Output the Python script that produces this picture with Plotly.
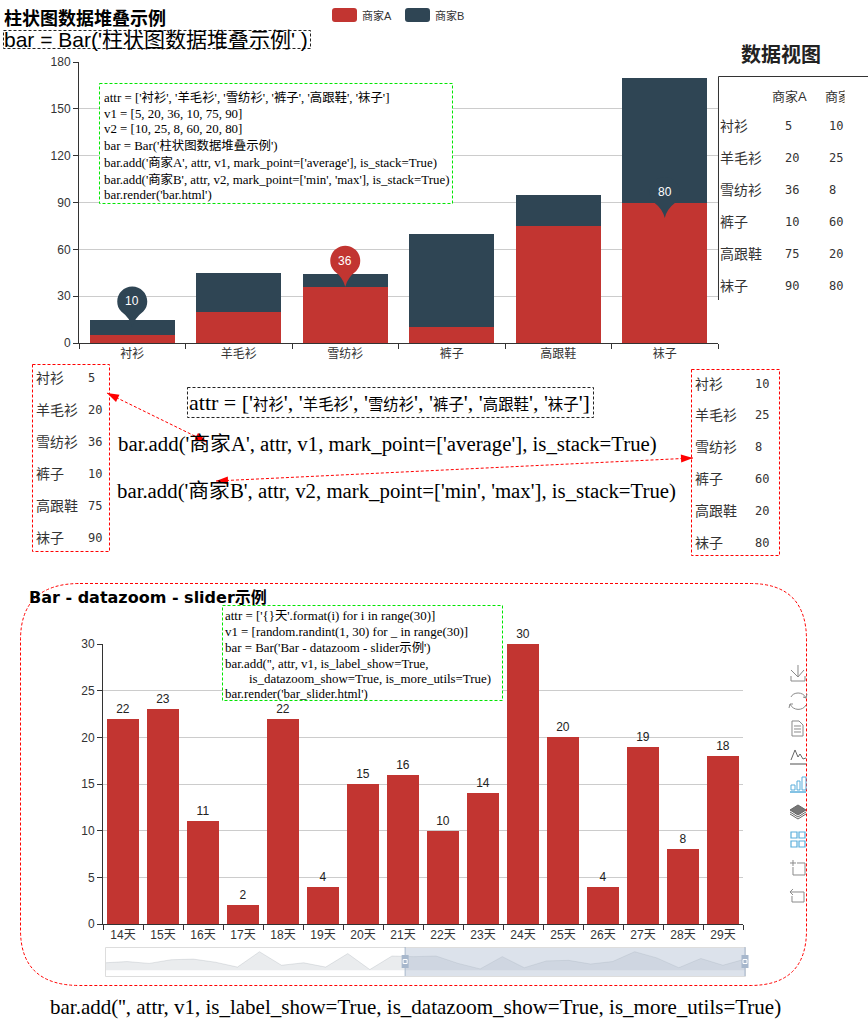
import re
import plotly.graph_objects as go

# ---------- data ----------
attr = ['衬衫', '羊毛衫', '雪纺衫', '裤子', '高跟鞋', '袜子']
v1 = [5, 20, 36, 10, 75, 90]
v2 = [10, 25, 8, 60, 20, 80]
series_names = ['商家A', '商家B']
pin_points = [('衬衫', 10, 'b'), ('雪纺衫', 36, 'a'), ('袜子', 80, 'b')]

days = ['{}天'.format(i) for i in range(30)]
day_vals = [12, 14, 11, 17, 18, 13, 5, 30, 8, 12, 5, 27, 1, 23,
            22, 23, 11, 2, 22, 4, 15, 16, 10, 14, 30, 20, 4, 19, 8, 18]
zoom_start = 14
zoom_end = 29
handle_left = 13.6
handle_right = 29
top_ticks = [0, 30, 60, 90, 120, 150, 180]
bot_ticks = [0, 5, 10, 15, 20, 25, 30]

code_top = ["attr = ['衬衫', '羊毛衫', '雪纺衫', '裤子', '高跟鞋', '袜子']",
            "v1 = [5, 20, 36, 10, 75, 90]",
            "v2 = [10, 25, 8, 60, 20, 80]",
            "bar = Bar('柱状图数据堆叠示例')",
            "bar.add('商家A', attr, v1, mark_point=['average'], is_stack=True)",
            "bar.add('商家B', attr, v2, mark_point=['min', 'max'], is_stack=True)",
            "bar.render('bar.html')"]
code_bot = ["attr = ['{}天'.format(i) for i in range(30)]",
            "v1 = [random.randint(1, 30) for _ in range(30)]",
            "bar = Bar('Bar - datazoom - slider示例')",
            "bar.add('', attr, v1, is_label_show=True,",
            "is_datazoom_show=True, is_more_utils=True)",
            "bar.render('bar_slider.html')"]

# ---------- style ----------
W, H = 868, 1024
RED, NAVY = '#c23531', '#2f4554'
SANS = 'Liberation Sans, Noto Sans CJK SC'
SERIF = 'Liberation Serif, Noto Sans CJK SC'
MONO = 'DejaVu Sans Mono, Noto Sans CJK SC'
CJK = 'Noto Sans CJK SC'
GRID, AXIS, TXT = '#cccccc', '#333333', '#333333'
ICON = '#8a8a8a'
BLUE = '#5aaedb'
LIME = '#00e600'


def X(x):
    return x / W


def Y(y):
    return 1 - y / H


def P(d):
    """Turn an SVG path written in page pixels into paper coordinates."""
    parts = re.findall(r'[A-Za-z]|-?\d+\.?\d*', d)
    out, i = [], 0
    for t in parts:
        if t.isalpha():
            out.append(t)
            i = 0
        else:
            out.append(f'{X(float(t)):.5f}' if i % 2 == 0 else f'{Y(float(t)):.5f}')
            i += 1
    return ' '.join(out)


shapes, notes = [], []


def path(d, line=None, width=1, fill=None, dash=None):
    s = dict(type='path', xref='paper', yref='paper', path=P(d),
             line=dict(color=line or 'rgba(0,0,0,0)', width=width if line else 0))
    if dash:
        s['line']['dash'] = dash
    if fill:
        s['fillcolor'] = fill
    shapes.append(s)


def box(x0, y0, x1, y1, line, dash='3px,2px', fill=None):
    x0, y0, x1, y1 = x0 + .5, y0 + .5, x1 + .5, y1 + .5
    path(f'M{x0} {y0} L{x1} {y0} L{x1} {y1} L{x0} {y1} Z', line=line, dash=dash, fill=fill)


def text(x, y, s, size=12, family=SANS, color='#000000', anchor='left', **kw):
    notes.append(dict(xref='paper', yref='paper', x=X(x), y=Y(y), text=s, showarrow=False,
                      xanchor=anchor, yanchor='middle', borderpad=0, borderwidth=0,
                      font=dict(size=size, family=family, color=color), **kw))


def arrow_head(tx, ty, fx, fy, length=12, half=4):
    dx, dy = fx - tx, fy - ty
    n = (dx * dx + dy * dy) ** 0.5
    dx, dy = dx / n, dy / n
    bx, by = tx + dx * length, ty + dy * length
    path(f'M{tx:.1f} {ty:.1f} L{bx - dy * half:.1f} {by + dx * half:.1f} '
         f'L{bx + dy * half:.1f} {by - dx * half:.1f} Z', fill='#ff0000')


def arrow(x0, y0, x1, y1):
    path(f'M{x0} {y0} L{x1} {y1}', line='#ff0000', dash='3px,2px')
    arrow_head(x0, y0, x1, y1)
    arrow_head(x1, y1, x0, y0)


def cjk_small(s, px):
    """Wrap CJK runs of s in a smaller size, as the caption in the picture has them."""
    return re.sub(r'([\u4e00-\u9fff]+)', lambda m: f'<span style="font-size:{px}px">{m.group(1)}</span>', s)


# ---------- figure traces ----------
fig = go.Figure()
for name, vals, col in zip(series_names, [v1, v2], [RED, NAVY]):
    fig.add_trace(go.Bar(x=attr, y=vals, name=name, marker=dict(color=col, line=dict(width=0)),
                         xaxis='x', yaxis='y', showlegend=False))

fig.add_trace(go.Bar(x=days[zoom_start:zoom_end + 1], y=day_vals[zoom_start:zoom_end + 1],
                     marker=dict(color=RED, line=dict(width=0)),
                     text=[str(v) for v in day_vals[zoom_start:zoom_end + 1]],
                     textposition='outside', cliponaxis=False,
                     textfont=dict(size=12, family=SANS, color='#222222'),
                     xaxis='x2', yaxis='y2', showlegend=False))

fig.add_trace(go.Scatter(x=list(range(len(day_vals))), y=day_vals, mode='lines', fill='tozeroy',
                         line=dict(color='rgba(47,69,84,0.12)', width=1),
                         fillcolor='rgba(47,69,84,0.1)', xaxis='x3', yaxis='y3', showlegend=False))

# ---------- mark pins ----------
PIN = ('M0,0 Q-2,9 -11,15.8 C-13.8,19 -15,22 -15,26 C-15,34.3 -8.3,41 0,41 '
       'C8.3,41 15,34.3 15,26 C15,22 13.8,19 11,15.8 Q2,9 0,0 Z')
for cat, val, which in pin_points:
    shapes.append(dict(type='path', xref='x', yref='y', xsizemode='pixel', ysizemode='pixel',
                       xanchor=cat, yanchor=val, path=PIN,
                       fillcolor=RED if which == 'a' else NAVY, line=dict(width=0)))
    notes.append(dict(xref='x', yref='y', x=cat, y=val, yshift=26, text=str(val), showarrow=False,
                      xanchor='center', yanchor='middle',
                      font=dict(size=12, family=SANS, color='#ffffff')))

# ---------- legend ----------
for lx, name, col in zip([332, 405], series_names, [RED, NAVY]):
    path(f'M{lx + 3} 8 L{lx + 22} 8 Q{lx + 25} 8 {lx + 25} 11 L{lx + 25} 19 Q{lx + 25} 22 {lx + 22} 22 '
         f'L{lx + 3} 22 Q{lx} 22 {lx} 19 L{lx} 11 Q{lx} 8 {lx + 3} 8 Z', fill=col)
    text(lx + 30, 15, name, size=11, family=SANS, color=TXT)

# ---------- titles and code captions ----------
text(4, 17, '<b>柱状图数据堆叠示例</b>', size=18, family=CJK, color='#000000')
box(3, 30, 310, 48, '#222222')
text(4, 39, "bar = Bar('柱状图数据堆叠示例' )", size=21, family=SANS)

box(99, 83, 452, 203, LIME, fill='#ffffff')
for yy, line in zip([97, 114, 129, 145, 162, 179, 195], code_top):
    text(104, yy, cjk_small(line, 12.4), size=12.9, family=SERIF)

text(781, 53, '<b>数据视图</b>', size=20, family=CJK, color='#222222', anchor='center')
path('M718.5 300 L718.5 76.5 L868 76.5', line='#333333')
text(789, 96, series_names[0], size=13, family=SANS, color=TXT, anchor='center')
text(825, 96, series_names[1], size=13, family=SANS, color=TXT)
notes.append(dict(xref='paper', yref='paper', x=X(844), y=Y(96), text=' ', showarrow=False,
                  xanchor='left', yanchor='middle', width=24, height=22, bgcolor='#ffffff',
                  font=dict(size=12)))

for yy, name, a, b in zip([126, 158, 190, 222, 254, 286], attr, v1, v2):
    text(720, yy - 1, name, size=14, family=CJK, color=TXT)
    text(785, yy, str(a), size=12, family=MONO, color=TXT)
    text(829, yy, str(b), size=12, family=MONO, color=TXT)

box(32, 364, 109, 551, '#ff0000')
for yy, name, a in zip([378, 410, 442, 474, 506, 538], attr, v1):
    text(36, yy - 1, name, size=14, family=CJK, color=TXT)
    text(88, yy, str(a), size=12, family=MONO, color=TXT)

box(691, 369, 779, 555, '#ff0000')
for yy, name, b in zip([384, 415, 447, 479, 511, 543], attr, v2):
    text(695, yy - 1, name, size=14, family=CJK, color=TXT)
    text(755, yy, str(b), size=12, family=MONO, color=TXT)

box(187, 387, 593, 417, '#222222')
text(189, 402, cjk_small("attr = ['衬衫', '羊毛衫', '雪纺衫', '裤子', '高跟鞋', '袜子']", 15.4), size=22, family=SERIF)
text(118, 444, "bar.add('商家A', attr, v1, mark_point=['average'], is_stack=True)", size=20.8, family=SERIF)
text(117, 491, "bar.add('商家B', attr, v2, mark_point=['min', 'max'], is_stack=True)", size=20.8, family=SERIF)
arrow(107, 393, 207, 442)
arrow(216, 481, 693, 458)

text(29, 597, '<b>Bar - datazoom - slider示例</b>', size=16, family='DejaVu Sans, Noto Sans CJK SC')
box(222, 605, 502, 700, LIME, fill='#ffffff')
for yy, xx, line in zip([616, 632, 648, 664, 679, 694], [225, 225, 225, 225, 249, 225], code_bot):
    text(xx, yy, cjk_small(line, 12.4), size=12.9, family=SERIF)

path('M80 583.5 L750 583.5 Q806.5 583.5 806.5 640 L806.5 930 Q806.5 985.5 750 985.5 L80 985.5 '
     'Q20.5 985.5 20.5 930 L20.5 640 Q20.5 583.5 80 583.5 Z', line='#ff0000', dash='3px,2px')
text(50, 1007, "bar.add('', attr, v1, is_label_show=True, is_datazoom_show=True, is_more_utils=True)",
     size=21, family=SERIF)

# ---------- slider furniture ----------
shapes.append(dict(type='rect', xref='x3', yref='paper', x0=handle_left, x1=handle_right,
                   y0=Y(976), y1=Y(947), fillcolor='rgba(167,183,204,0.4)', line=dict(width=0)))
box(105, 947, 745, 976, '#dddddd', dash='solid')
for v in [handle_left, handle_right]:
    shapes.append(dict(type='line', xref='x3', yref='paper', x0=v, x1=v, y0=Y(976), y1=Y(947),
                       line=dict(color='#a7b7cc', width=1)))
    shapes.append(dict(type='rect', xref='x3', yref='paper', xsizemode='pixel', xanchor=v,
                       x0=-3.5, x1=3.5, y0=Y(968), y1=Y(955), fillcolor='#a7b7cc', line=dict(width=0)))
    shapes.append(dict(type='rect', xref='x3', yref='paper', xsizemode='pixel', xanchor=v,
                       x0=-2, x1=2, y0=Y(963.5), y1=Y(959.5), fillcolor='rgba(0,0,0,0)',
                       line=dict(color='#ffffff', width=1)))

# ---------- toolbox icons ----------
path('M791 676 L791 681 L805 681 L805 676', line=ICON)
path('M798 665 L798 677 M791 670 L798 677 L804 670', line=ICON)
path('M791 697 C793 692 803 691 806 698 M806 705 C803 711 793 711 790 704 '
     'M803 697 L806 698 L807 694 M793 704 L790 704 L789 708', line=ICON)
path('M792 721 L799 721 L803 725 L803 736 L792 736 Z M794 726 L801 726 M794 729 L801 729 M794 732 L801 732',
     line=ICON)
path('M791 760 L795 750 L798 757 L800 754 L803 759 L806 758', line='#666666')
path('M790 764 L806 764', line=ICON, width=1.5)
path('M791 785 L795 785 L795 790 L791 790 Z M797 781 L800 781 L800 790 L797 790 Z '
     'M802 777 L806 777 L806 790 L802 790 Z', line=BLUE)
path('M790 792 L806 792', line=BLUE, width=1.5)
path('M790 810 L798 805 L806 810 L798 815 Z', line='#666666', fill='#777777')
path('M790 812 L798 817 L806 812 M790 814 L798 819 L806 814', line='#666666')
path('M791 832 L797 832 L797 838 L791 838 Z M799 832 L805 832 L805 838 L799 838 Z '
     'M791 841 L797 841 L797 847 L791 847 Z M799 841 L805 841 L805 847 L799 847 Z', line=BLUE, width=1.2)
path('M790 863 L796 863 M793 860 L793 866 M797 863 L805 863 L805 875 L793 875 L793 867', line=ICON)
path('M793 889 L790 892 L793 895 M790 892 L804 892 L804 902 L792 902 L792 896', line=ICON)

# ---------- layout ----------
common_x = dict(type='category', showgrid=False, zeroline=False, showline=True, linecolor=AXIS, linewidth=1,
                ticks='outside', tickson='boundaries', ticklen=5, tickcolor=AXIS,
                tickfont=dict(size=12, family=SANS, color=TXT))
common_y = dict(showgrid=True, gridcolor=GRID, gridwidth=1, zeroline=False, showline=True, linecolor=AXIS,
                linewidth=1, ticks='outside', ticklen=5, tickcolor=AXIS,
                tickfont=dict(size=12, family=SANS, color=TXT))

fig.update_layout(
    width=W, height=H, autosize=False, margin=dict(l=0, r=0, t=0, b=0, pad=0, autoexpand=False),
    paper_bgcolor='#ffffff', plot_bgcolor='#ffffff', barmode='stack', bargap=0.2,
    showlegend=False, hovermode=False,
    xaxis=dict(domain=[X(79), X(718)], anchor='y', categoryorder='array', categoryarray=attr, **common_x),
    yaxis=dict(domain=[Y(343), Y(62)], anchor='x', range=[0, 180], tickvals=top_ticks, **common_y),
    xaxis2=dict(domain=[X(103), X(743)], anchor='y2', categoryorder='array',
                categoryarray=days[zoom_start:zoom_end + 1], **common_x),
    yaxis2=dict(domain=[Y(924), Y(644)], anchor='x2', range=[0, 30], tickvals=bot_ticks, **common_y),
    xaxis3=dict(domain=[X(105), X(752)], anchor='y3', range=[0, 29 * 647 / 640], visible=False),
    yaxis3=dict(domain=[Y(976), Y(947)], anchor='x3', range=[-9.5, 37.7], visible=False),
    shapes=shapes, annotations=notes,
)

fig.write_html('out.html', config=dict(displayModeBar=False),
               post_script="document.body.style.margin='0';document.body.style.overflow='hidden';")
